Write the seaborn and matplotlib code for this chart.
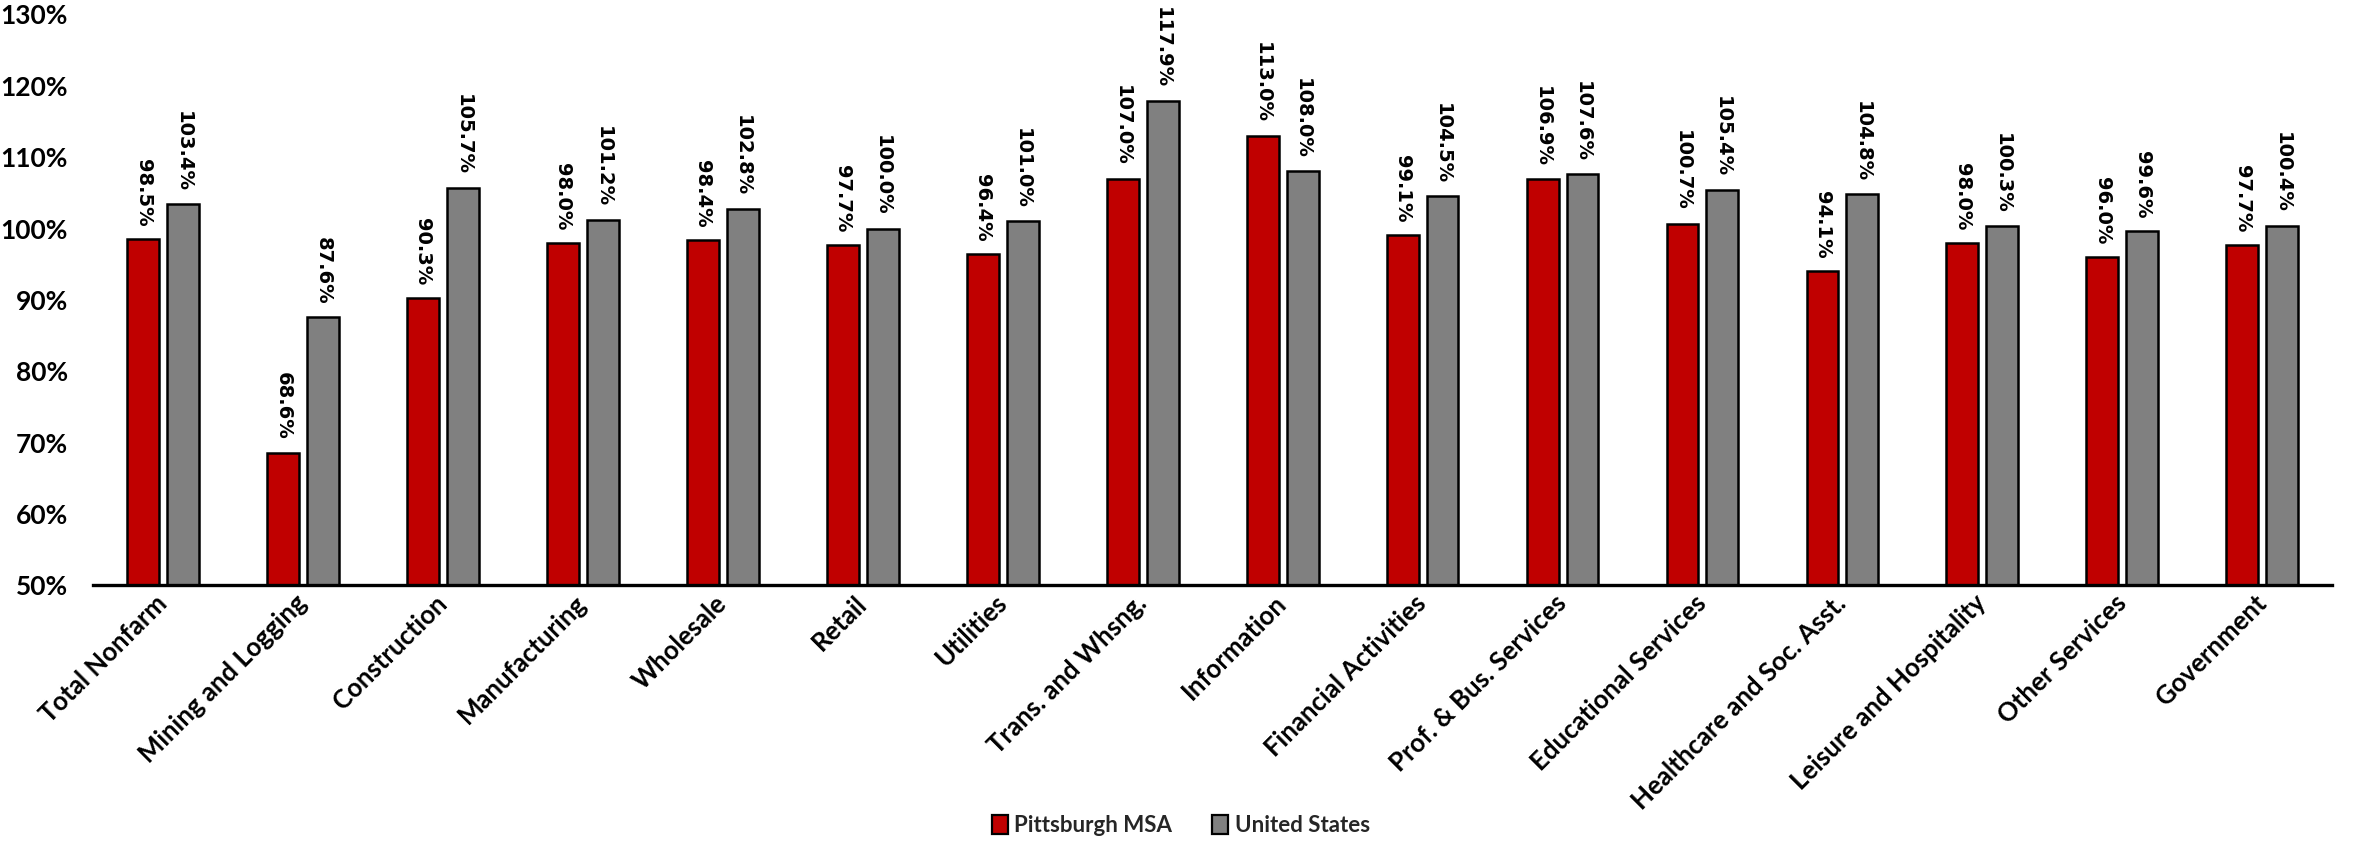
import matplotlib
matplotlib.use("Agg")
import matplotlib.pyplot as plt
from matplotlib.font_manager import FontProperties
from matplotlib.patches import Patch
from matplotlib.ticker import FuncFormatter
import pandas as pd
import seaborn as sns

categories = [
    "Total Nonfarm", "Mining and Logging", "Construction", "Manufacturing",
    "Wholesale", "Retail", "Utilities", "Trans. and Whsng.", "Information",
    "Financial Activities", "Prof. & Bus. Services", "Educational Services",
    "Healthcare and Soc. Asst.", "Leisure and Hospitality", "Other Services",
    "Government",
]
pittsburgh = [98.5, 68.6, 90.3, 98.0, 98.4, 97.7, 96.4, 107.0, 113.0,
              99.1, 106.9, 100.7, 94.1, 98.0, 96.0, 97.7]
united_states = [103.4, 87.6, 105.7, 101.2, 102.8, 100.0, 101.0, 117.9, 108.0,
                 104.5, 107.6, 105.4, 104.8, 100.3, 99.6, 100.4]
series_names = ["Pittsburgh MSA", "United States"]
colors = ["#C00000", "#808080"]

df = pd.DataFrame({
    "category": categories * 2,
    "value": pittsburgh + united_states,
    "series": [series_names[0]] * len(categories) + [series_names[1]] * len(categories),
})

sns.set_theme(style="white")
plt.rcParams["font.family"] = ["Lato", "DejaVu Sans"]
plt.rcParams["font.weight"] = "bold"

fig = plt.figure(figsize=(23.62, 8.46), dpi=100)
ax = fig.add_axes([0.0394, 0.308, 0.948, 0.675])

sns.barplot(
    data=df, x="category", y="value", hue="series", hue_order=series_names,
    palette=colors, edgecolor="black", linewidth=1.8, width=0.57, gap=0.2,
    ax=ax, legend=False, saturation=1,
)

# value labels, reading top to bottom above each bar
label_font = FontProperties(family="DejaVu Sans", weight="bold", size=14)
for cont in ax.containers:
    vals = [b.get_height() for b in cont]
    ax.bar_label(cont, labels=[f"{v:.1f}%" for v in vals], rotation=-90,
                 padding=9, fontproperties=label_font, color="black")

ax.set_ylim(50, 130)
ax.set_xlim(-0.5, len(categories) - 0.5)
ax.set_yticks(range(50, 131, 10))
ax.yaxis.set_major_formatter(FuncFormatter(lambda v, p: f"{v:.0f}%"))
ax.set_xlabel("")
ax.set_ylabel("")

ax.tick_params(axis="both", length=0, colors="black")
ax.tick_params(axis="y", pad=18, labelsize=19)
ax.tick_params(axis="x", pad=10, labelsize=18.5)
for lbl in ax.get_yticklabels():
    lbl.set_fontweight("bold")
for lbl in ax.get_xticklabels():
    lbl.set_fontweight("bold")
    lbl.set_rotation(45)
    lbl.set_ha("right")
    lbl.set_rotation_mode("anchor")
    lbl.set_va("center")

for side in ["top", "right", "left"]:
    ax.spines[side].set_visible(False)
ax.spines["bottom"].set_color("black")
ax.spines["bottom"].set_linewidth(2.4)
ax.grid(False)

handles = [Patch(facecolor=c, edgecolor="black", linewidth=1.6, label=n)
           for c, n in zip(colors, series_names)]
fig.legend(handles=handles, loc="center", bbox_to_anchor=(0.5, 0.024),
           ncol=2, frameon=False, handlelength=0.7, handleheight=0.9,
           handletextpad=0.3, columnspacing=1.8,
           prop={"weight": "bold", "size": 16})

fig.savefig("out.png", dpi=100, facecolor="white")
